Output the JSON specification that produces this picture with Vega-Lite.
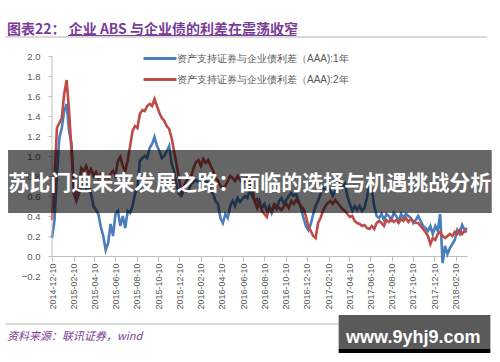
{
  "$schema": "https://vega.github.io/schema/vega-lite/v6.json",
  "width": 415,
  "height": 220,
  "autosize": {"type": "none"},
  "padding": {"left": 52, "top": 56, "right": 33, "bottom": 86},
  "background": "white",
  "config": {"view": {"stroke": null}, "font": "Liberation Sans", "axis": {"labelOverlap": false}},
  "title": {
    "text": "图表22：  企业 ABS 与企业债的利差在震荡收窄",
    "anchor": "start",
    "frame": "group",
    "dx": -45,
    "dy": 15,
    "fontSize": 14,
    "font": "Noto Sans CJK SC",
    "fontWeight": "bold",
    "color": "#7a3c97",
    "offset": 2,
    "baseline": "alphabetic"
  },
  "layer": [
    {
      "data": {"values": [
        {"d":"2014-12-10","a":0.18,"b":0.36},{"d":"2014-12-17","a":0.35,"b":0.75},{"d":"2014-12-24","a":0.8,"b":1.28},{"d":"2014-12-31","a":1.18,"b":1.33},
        {"d":"2015-01-07","a":1.28,"b":1.38},{"d":"2015-01-14","a":1.45,"b":1.62},{"d":"2015-01-21","a":1.52,"b":1.76},{"d":"2015-01-28","a":1.25,"b":1.45},
        {"d":"2015-02-04","a":1.12,"b":1.05},{"d":"2015-02-11","a":0.68,"b":0.62},{"d":"2015-02-18","a":0.55,"b":0.55},{"d":"2015-02-25","a":0.62,"b":0.72},
        {"d":"2015-03-04","a":0.7,"b":0.88},{"d":"2015-03-11","a":0.72,"b":0.85},{"d":"2015-03-18","a":0.68,"b":0.9},{"d":"2015-03-25","a":0.74,"b":0.82},
        {"d":"2015-04-01","a":0.62,"b":0.87},{"d":"2015-04-08","a":0.5,"b":0.8},{"d":"2015-04-15","a":0.46,"b":0.84},{"d":"2015-04-22","a":0.42,"b":0.78},
        {"d":"2015-04-29","a":0.29,"b":0.82},{"d":"2015-05-06","a":0.2,"b":0.76},{"d":"2015-05-13","a":0.06,"b":0.8},{"d":"2015-05-20","a":0.13,"b":0.78},
        {"d":"2015-05-27","a":0.32,"b":0.82},{"d":"2015-06-03","a":0.2,"b":0.85},{"d":"2015-06-10","a":0.42,"b":0.8},{"d":"2015-06-17","a":0.45,"b":0.95},
        {"d":"2015-06-24","a":0.3,"b":0.99},{"d":"2015-07-01","a":0.4,"b":0.9},{"d":"2015-07-08","a":0.28,"b":0.85},{"d":"2015-07-15","a":0.45,"b":0.95},
        {"d":"2015-07-22","a":0.43,"b":1.1},{"d":"2015-07-29","a":0.5,"b":1.25},{"d":"2015-08-05","a":0.62,"b":1.3},{"d":"2015-08-12","a":0.68,"b":1.28},
        {"d":"2015-08-19","a":0.95,"b":1.42},{"d":"2015-08-26","a":0.98,"b":1.46},{"d":"2015-09-02","a":1.0,"b":1.45},{"d":"2015-09-09","a":0.98,"b":1.5},
        {"d":"2015-09-16","a":1.08,"b":1.52},{"d":"2015-09-23","a":1.12,"b":1.5},{"d":"2015-09-30","a":1.19,"b":1.57},{"d":"2015-10-07","a":1.1,"b":1.5},
        {"d":"2015-10-14","a":1.05,"b":1.43},{"d":"2015-10-21","a":0.98,"b":1.38},{"d":"2015-10-28","a":1.0,"b":1.35},{"d":"2015-11-04","a":1.05,"b":1.3},
        {"d":"2015-11-11","a":1.1,"b":1.27},{"d":"2015-11-18","a":0.92,"b":1.18},{"d":"2015-11-25","a":0.85,"b":1.05},{"d":"2015-12-02","a":0.72,"b":0.92},
        {"d":"2015-12-09","a":0.62,"b":0.78},{"d":"2015-12-16","a":0.6,"b":0.64},{"d":"2015-12-23","a":0.66,"b":0.7},{"d":"2015-12-30","a":0.65,"b":0.75},
        {"d":"2016-01-06","a":0.66,"b":0.8},{"d":"2016-01-13","a":0.72,"b":0.79},{"d":"2016-01-20","a":0.74,"b":0.88},{"d":"2016-01-27","a":0.76,"b":0.94},
        {"d":"2016-02-03","a":0.74,"b":0.96},{"d":"2016-02-10","a":0.78,"b":0.9},{"d":"2016-02-17","a":0.76,"b":0.97},{"d":"2016-02-24","a":0.75,"b":0.93},
        {"d":"2016-03-02","a":0.74,"b":0.96},{"d":"2016-03-09","a":0.66,"b":0.9},{"d":"2016-03-16","a":0.62,"b":0.85},{"d":"2016-03-23","a":0.55,"b":0.78},
        {"d":"2016-03-30","a":0.52,"b":0.75},{"d":"2016-04-06","a":0.38,"b":0.7},{"d":"2016-04-13","a":0.33,"b":0.68},{"d":"2016-04-20","a":0.42,"b":0.7},
        {"d":"2016-04-27","a":0.38,"b":0.75},{"d":"2016-05-04","a":0.5,"b":0.8},{"d":"2016-05-11","a":0.55,"b":0.78},{"d":"2016-05-18","a":0.5,"b":0.75},
        {"d":"2016-05-25","a":0.58,"b":0.8},{"d":"2016-06-01","a":0.54,"b":0.76},{"d":"2016-06-08","a":0.57,"b":0.73},{"d":"2016-06-15","a":0.6,"b":0.75},
        {"d":"2016-06-22","a":0.58,"b":0.78},{"d":"2016-06-29","a":0.66,"b":0.75},{"d":"2016-07-06","a":0.6,"b":0.68},{"d":"2016-07-13","a":0.55,"b":0.55},
        {"d":"2016-07-20","a":0.57,"b":0.48},{"d":"2016-07-27","a":0.5,"b":0.55},{"d":"2016-08-03","a":0.48,"b":0.45},{"d":"2016-08-10","a":0.52,"b":0.42},
        {"d":"2016-08-17","a":0.45,"b":0.39},{"d":"2016-08-24","a":0.5,"b":0.48},{"d":"2016-08-31","a":0.43,"b":0.45},{"d":"2016-09-07","a":0.5,"b":0.52},
        {"d":"2016-09-14","a":0.47,"b":0.5},{"d":"2016-09-21","a":0.55,"b":0.48},{"d":"2016-09-28","a":0.58,"b":0.46},{"d":"2016-10-05","a":0.52,"b":0.5},
        {"d":"2016-10-12","a":0.56,"b":0.52},{"d":"2016-10-19","a":0.6,"b":0.48},{"d":"2016-10-26","a":0.63,"b":0.55},{"d":"2016-11-02","a":0.6,"b":0.52},
        {"d":"2016-11-09","a":0.62,"b":0.56},{"d":"2016-11-16","a":0.55,"b":0.53},{"d":"2016-11-23","a":0.48,"b":0.5},{"d":"2016-11-30","a":0.38,"b":0.47},
        {"d":"2016-12-07","a":0.3,"b":0.4},{"d":"2016-12-14","a":0.26,"b":0.3},{"d":"2016-12-21","a":0.32,"b":0.25},{"d":"2016-12-28","a":0.42,"b":0.2},
        {"d":"2017-01-04","a":0.5,"b":0.18},{"d":"2017-01-11","a":0.55,"b":0.33},{"d":"2017-01-18","a":0.62,"b":0.38},{"d":"2017-01-25","a":0.68,"b":0.45},
        {"d":"2017-02-01","a":0.65,"b":0.5},{"d":"2017-02-08","a":0.7,"b":0.53},{"d":"2017-02-15","a":0.66,"b":0.55},{"d":"2017-02-22","a":0.6,"b":0.52},
        {"d":"2017-03-01","a":0.65,"b":0.56},{"d":"2017-03-08","a":0.7,"b":0.53},{"d":"2017-03-15","a":0.74,"b":0.5},{"d":"2017-03-22","a":0.68,"b":0.47},
        {"d":"2017-03-29","a":0.72,"b":0.45},{"d":"2017-04-05","a":0.6,"b":0.42},{"d":"2017-04-12","a":0.52,"b":0.39},{"d":"2017-04-19","a":0.45,"b":0.4},
        {"d":"2017-04-26","a":0.5,"b":0.35},{"d":"2017-05-03","a":0.46,"b":0.33},{"d":"2017-05-10","a":0.5,"b":0.32},{"d":"2017-05-17","a":0.45,"b":0.3},
        {"d":"2017-05-24","a":0.48,"b":0.31},{"d":"2017-05-31","a":0.58,"b":0.28},{"d":"2017-06-07","a":0.72,"b":0.27},{"d":"2017-06-14","a":0.66,"b":0.3},
        {"d":"2017-06-21","a":0.5,"b":0.27},{"d":"2017-06-28","a":0.4,"b":0.33},{"d":"2017-07-05","a":0.38,"b":0.35},{"d":"2017-07-12","a":0.42,"b":0.33},
        {"d":"2017-07-19","a":0.36,"b":0.3},{"d":"2017-07-26","a":0.42,"b":0.36},{"d":"2017-08-02","a":0.4,"b":0.34},{"d":"2017-08-09","a":0.36,"b":0.37},
        {"d":"2017-08-16","a":0.43,"b":0.34},{"d":"2017-08-23","a":0.4,"b":0.36},{"d":"2017-08-30","a":0.35,"b":0.33},{"d":"2017-09-06","a":0.42,"b":0.37},
        {"d":"2017-09-13","a":0.38,"b":0.35},{"d":"2017-09-20","a":0.42,"b":0.38},{"d":"2017-09-27","a":0.4,"b":0.34},{"d":"2017-10-04","a":0.38,"b":0.37},
        {"d":"2017-10-11","a":0.33,"b":0.35},{"d":"2017-10-18","a":0.36,"b":0.33},{"d":"2017-10-25","a":0.4,"b":0.33},{"d":"2017-11-01","a":0.35,"b":0.3},
        {"d":"2017-11-08","a":0.3,"b":0.27},{"d":"2017-11-15","a":0.28,"b":0.24},{"d":"2017-11-22","a":0.25,"b":0.2},{"d":"2017-11-29","a":0.3,"b":0.12},
        {"d":"2017-12-06","a":0.22,"b":0.18},{"d":"2017-12-13","a":0.3,"b":0.16},{"d":"2017-12-20","a":0.25,"b":0.22},{"d":"2017-12-27","a":0.42,"b":0.24},
        {"d":"2018-01-03","a":-0.07,"b":0.2},{"d":"2018-01-10","a":0.1,"b":0.18},{"d":"2018-01-17","a":0.02,"b":0.2},{"d":"2018-01-24","a":0.08,"b":0.22},
        {"d":"2018-01-31","a":0.12,"b":0.2},{"d":"2018-02-07","a":0.16,"b":0.24},{"d":"2018-02-14","a":0.26,"b":0.22},{"d":"2018-02-21","a":0.22,"b":0.26},
        {"d":"2018-02-28","a":0.31,"b":0.22},{"d":"2018-03-07","a":0.26,"b":0.25},{"d":"2018-03-14","a":0.28,"b":0.24}
      ]},
      "transform": [{"fold": ["a", "b"], "as": ["s", "v"]}],
      "mark": {"type": "line", "strokeWidth": 2.6},
      "encoding": {
        "x": {
          "field": "d", "type": "temporal",
          "scale": {"type": "utc", "domain": [{"year": 2014, "month": 12, "date": 10, "utc": true}, {"year": 2018, "month": 3, "date": 14, "utc": true}]},
          "axis": {
            "title": null, "grid": false, "format": "%Y-%m-%d", "labelAngle": -90, "tickCount": 40,
            "values": [
              {"year": 2014, "month": 12, "date": 10, "utc": true},
              {"year": 2015, "month": 2, "date": 10, "utc": true},
              {"year": 2015, "month": 4, "date": 10, "utc": true},
              {"year": 2015, "month": 6, "date": 10, "utc": true},
              {"year": 2015, "month": 8, "date": 10, "utc": true},
              {"year": 2015, "month": 10, "date": 10, "utc": true},
              {"year": 2015, "month": 12, "date": 10, "utc": true},
              {"year": 2016, "month": 2, "date": 10, "utc": true},
              {"year": 2016, "month": 4, "date": 10, "utc": true},
              {"year": 2016, "month": 6, "date": 10, "utc": true},
              {"year": 2016, "month": 8, "date": 10, "utc": true},
              {"year": 2016, "month": 10, "date": 10, "utc": true},
              {"year": 2016, "month": 12, "date": 10, "utc": true},
              {"year": 2017, "month": 2, "date": 10, "utc": true},
              {"year": 2017, "month": 4, "date": 10, "utc": true},
              {"year": 2017, "month": 6, "date": 10, "utc": true},
              {"year": 2017, "month": 8, "date": 10, "utc": true},
              {"year": 2017, "month": 10, "date": 10, "utc": true},
              {"year": 2017, "month": 12, "date": 10, "utc": true},
              {"year": 2018, "month": 2, "date": 10, "utc": true}
            ],
            "offset": -20, "tickSize": 5, "labelPadding": 2, "labelFontSize": 9,
            "labelColor": "#595959", "tickColor": "#bfbfbf", "domainColor": "#bfbfbf",
            "labelOverlap": false, "labelFlush": false, "labelSeparation": 0
          }
        },
        "y": {
          "field": "v", "type": "quantitative",
          "scale": {"domain": [-0.2, 2.0], "nice": false, "zero": false},
          "axis": {
            "title": null, "grid": false, "domain": false, "format": ".1f", "tickCount": 30,
            "values": [-0.2, 0, 0.2, 0.4, 0.6, 0.8, 1.0, 1.2, 1.4, 1.6, 1.8, 2.0],
            "tickSize": 4, "labelPadding": 8, "labelFontSize": 9.5, "labelColor": "#595959",
            "labelOverlap": false, "labelFlush": false, "labelSeparation": 0,
            "tickColor": {"condition": {"test": "datum.value < 0", "value": "transparent"}, "value": "#bfbfbf"}
          }
        },
        "color": {
          "field": "s", "type": "nominal",
          "scale": {"domain": ["a", "b"], "range": ["#4a7ebb", "#be4b48"]},
          "legend": {
            "title": null, "orient": "none", "legendX": 99.5, "legendY": -6, "direction": "vertical",
            "symbolType": "M-2.35,0H2.35", "symbolSize": 196, "symbolStrokeWidth": 3,
            "labelFontSize": 10, "labelColor": "#595959", "labelFont": "Liberation Sans",
            "labelLimit": 400, "labelOffset": 8.5, "rowPadding": 6, "padding": 0,
            "labelExpr": "datum.value == 'a' ? '资产支持证券与企业债利差（AAA):1年' : '资产支持证券与企业债利差（AAA):2年'"
          }
        }
      }
    },
    {
      "data": {"values": [{}]},
      "mark": {"type": "rule", "color": "#bfbfbf", "strokeWidth": 1},
      "encoding": {
        "x": {"datum": {"year": 2014, "month": 12, "date": 10, "utc": true}, "type": "temporal"},
        "y": {"datum": 0, "type": "quantitative"},
        "y2": {"datum": 2.0}
      }
    },
    {
      "data": {"values": [{}]},
      "mark": {"type": "rect", "color": "black", "opacity": 0.6},
      "encoding": {
        "x": {"datum": {"year": 2014, "month": 8, "date": 6, "utc": true}, "type": "temporal"},
        "x2": {"datum": {"year": 2018, "month": 5, "date": 24, "utc": true}},
        "y": {"datum": 1.06, "type": "quantitative"},
        "y2": {"datum": 0.43}
      }
    },
    {
      "data": {"values": [{"t": "苏比门迪未来发展之路：面临的选择与机遇挑战分析"}]},
      "mark": {"type": "text", "color": "white", "font": "Noto Sans CJK SC", "fontWeight": "bold", "fontSize": 21, "align": "center", "baseline": "middle"},
      "encoding": {
        "x": {"datum": {"year": 2016, "month": 6, "date": 29, "utc": true}, "type": "temporal"},
        "y": {"datum": 0.725, "type": "quantitative"},
        "text": {"field": "t"}
      }
    },
    {
      "data": {"values": [{"y": 2.19}, {"y": -0.68}]},
      "mark": {"type": "rule", "color": "#d9d9d9", "strokeWidth": 1.8},
      "encoding": {
        "x": {"datum": {"year": 2014, "month": 7, "date": 29, "utc": true}, "type": "temporal"},
        "x2": {"datum": {"year": 2018, "month": 5, "date": 11, "utc": true}},
        "y": {"field": "y", "type": "quantitative"}
      }
    },
    {
      "data": {"values": [{}]},
      "mark": {"type": "rule", "color": "#7a3c97", "strokeWidth": 1},
      "encoding": {
        "x": {"datum": {"year": 2015, "month": 1, "date": 25, "utc": true}, "type": "temporal"},
        "x2": {"datum": {"year": 2016, "month": 11, "date": 10, "utc": true}},
        "y": {"datum": 2.205, "type": "quantitative"}
      }
    },
    {
      "data": {"values": [{"t": "资料来源：联讯证券，wind"}]},
      "mark": {"type": "text", "color": "#7a3c97", "font": "Noto Sans CJK SC", "fontStyle": "italic", "fontSize": 11, "align": "left", "baseline": "middle"},
      "encoding": {
        "x": {"datum": {"year": 2014, "month": 8, "date": 3, "utc": true}, "type": "temporal"},
        "y": {"datum": -0.81, "type": "quantitative"},
        "text": {"field": "t"}
      }
    },
    {
      "data": {"values": [{"y": -0.59, "y2": -0.93, "c": "#5a5a5a"}, {"y": -0.93, "y2": -0.97, "c": "#000000"}]},
      "mark": {"type": "rect"},
      "encoding": {
        "x": {"datum": {"year": 2017, "month": 3, "date": 11, "utc": true}, "type": "temporal"},
        "x2": {"datum": {"year": 2018, "month": 5, "date": 20, "utc": true}},
        "y": {"field": "y", "type": "quantitative"},
        "y2": {"field": "y2"},
        "fill": {"field": "c", "type": "nominal", "scale": null}
      }
    },
    {
      "data": {"values": [{"t": "www.9yhj9.com"}]},
      "mark": {"type": "text", "color": "white", "font": "Liberation Sans", "fontWeight": "bold", "fontSize": 18, "align": "center", "baseline": "middle"},
      "encoding": {
        "x": {"datum": {"year": 2017, "month": 10, "date": 11, "utc": true}, "type": "temporal"},
        "y": {"datum": -0.82, "type": "quantitative"},
        "text": {"field": "t"}
      }
    }
  ]
}
